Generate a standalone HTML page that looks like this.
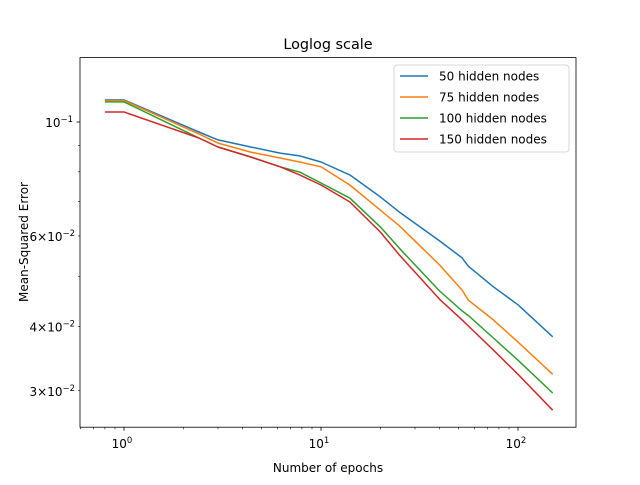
<!DOCTYPE html>
<html><head><meta charset="utf-8"><style>
body{margin:0;background:#fff}
svg text{font-family:"DejaVu Sans","Liberation Sans",sans-serif;fill:#000}
</style></head><body>
<svg id="chart" width="640" height="480" viewBox="0 0 640 480" xmlns="http://www.w3.org/2000/svg">
<rect x="0" y="0" width="640" height="480" fill="#fff"/>
<text x="328" y="49" font-size="14.4" text-anchor="middle">Loglog scale</text>
<text x="328" y="472" font-size="12" text-anchor="middle">Number of epochs</text>
<text transform="translate(28,242) rotate(-90)" font-size="12" text-anchor="middle">Mean-Squared Error</text>
<g id="ticks"></g>
<g id="series"></g>
<rect x="80" y="57.6" width="496" height="369.6" fill="none" stroke="#000" stroke-width="0.8"/>
<g id="legend">
<rect x="394" y="65" width="175" height="87" rx="3" fill="#fff" fill-opacity="0.8" stroke="#ccc" stroke-width="0.8"/>
</g>
</svg>
<script>
const epochs=[0.8,1,2.4,3,4.4,6.2,7.8,10,14,20,25,40,52,56,75,100,150];
const seriesNames=["50 hidden nodes","75 hidden nodes","100 hidden nodes","150 hidden nodes"];
const mse50=[0.1104,0.1104,0.0956,0.0923,0.0894,0.0870,0.0859,0.0836,0.0789,0.0715,0.0668,0.0587,0.0544,0.0524,0.0478,0.0441,0.0382];
const mse75=[0.1101,0.1101,0.0948,0.0910,0.0874,0.0851,0.0836,0.0818,0.0754,0.0674,0.0628,0.0527,0.0471,0.0450,0.0412,0.0373,0.0323];
const mse100=[0.1094,0.1094,0.0931,0.0894,0.0855,0.0818,0.0799,0.0761,0.0711,0.0625,0.0568,0.0469,0.0429,0.0420,0.0380,0.0344,0.0297];
const mse150=[0.1046,0.1046,0.0931,0.0894,0.0855,0.0818,0.0789,0.0754,0.0699,0.0611,0.0551,0.0452,0.0412,0.0401,0.0360,0.0323,0.0275];
const xMajorTicks=[1,10,100];
const xMajorExp=["0","1","2"];
const yLabeledTicks=[0.1,0.06,0.04,0.03];
const yTickMant=["10","6×10","4×10","3×10"];
const yTickExp=["−1","−2","−2","−2"];
const yMinorUnlabeled=[0.05,0.07,0.08,0.09];
const colors=["#1f77b4","#ff7f0e","#2ca02c","#d62728"];
const NS="http://www.w3.org/2000/svg";
function xs(v){return 124+197*Math.log10(v);}
function ys(v){return 122+514*(-1-Math.log10(v));}
function mk(tag,attrs,parent){const e=document.createElementNS(NS,tag);for(const k in attrs)e.setAttribute(k,attrs[k]);parent.appendChild(e);return e;}
const tg=document.getElementById('ticks');
for(let k=-1;k<=2;k++){for(let m=2;m<=9;m++){const v=m*Math.pow(10,k);const x=xs(v);if(x<80||x>576)continue;
 const t=mk('line',{x1:x,x2:x,y1:427.2,y2:429.2,stroke:'#000','stroke-width':0.6},tg);
 
 }}
xMajorTicks.forEach((v,i)=>{const x=xs(v);
 const t=mk('line',{x1:x,x2:x,y1:427.2,y2:430.7,stroke:'#000','stroke-width':0.8},tg);
 
 
 const tx=mk('text',{x:x-2,y:448,'font-size':12,'text-anchor':'middle'},tg);
 
 
 tx.textContent='10';
 const sup=mk('tspan',{dy:-5,'font-size':8.5},tx);sup.textContent=xMajorExp[i];});
yMinorUnlabeled.forEach(v=>{const y=ys(v);
 const t=mk('line',{x1:78,x2:80,y1:y,y2:y,stroke:'#000','stroke-width':0.6},tg);
 
 });
yLabeledTicks.forEach((v,i)=>{const y=ys(v);const major=i===0;
 const t=mk('line',{x1:major?76.5:78,x2:80,y1:y,y2:y,stroke:'#000','stroke-width':major?0.8:0.6},tg);
 
 
 const tx=mk('text',{x:major?73:75,y:y+5,'font-size':12,'text-anchor':'end'},tg);
 
 
 tx.textContent=yTickMant[i];
 const sup=mk('tspan',{dy:-5,'font-size':8.5},tx);sup.textContent=yTickExp[i];});
const sg=document.getElementById('series');
const allSeries=[mse50,mse75,mse100,mse150];
allSeries.forEach((vals,si)=>{
 const d=vals.map((v,i)=>(i?'L':'M')+xs(epochs[i]).toFixed(1)+','+ys(v).toFixed(1)).join(' ');
 const p=mk('path',{d:d,fill:'none',stroke:colors[si],'stroke-width':1.5,'stroke-linejoin':'round'},sg);
 
 });
const lg=document.getElementById('legend');
seriesNames.forEach((n,i)=>{const y=76+21*i;
 const l=mk('line',{x1:400,x2:428,y1:y,y2:y,stroke:colors[i],'stroke-width':1.5},lg);
 
 
 const t=mk('text',{x:439,y:y+4.5,'font-size':12},lg);
 
 
 t.textContent=n;});
</script>
</body></html>
